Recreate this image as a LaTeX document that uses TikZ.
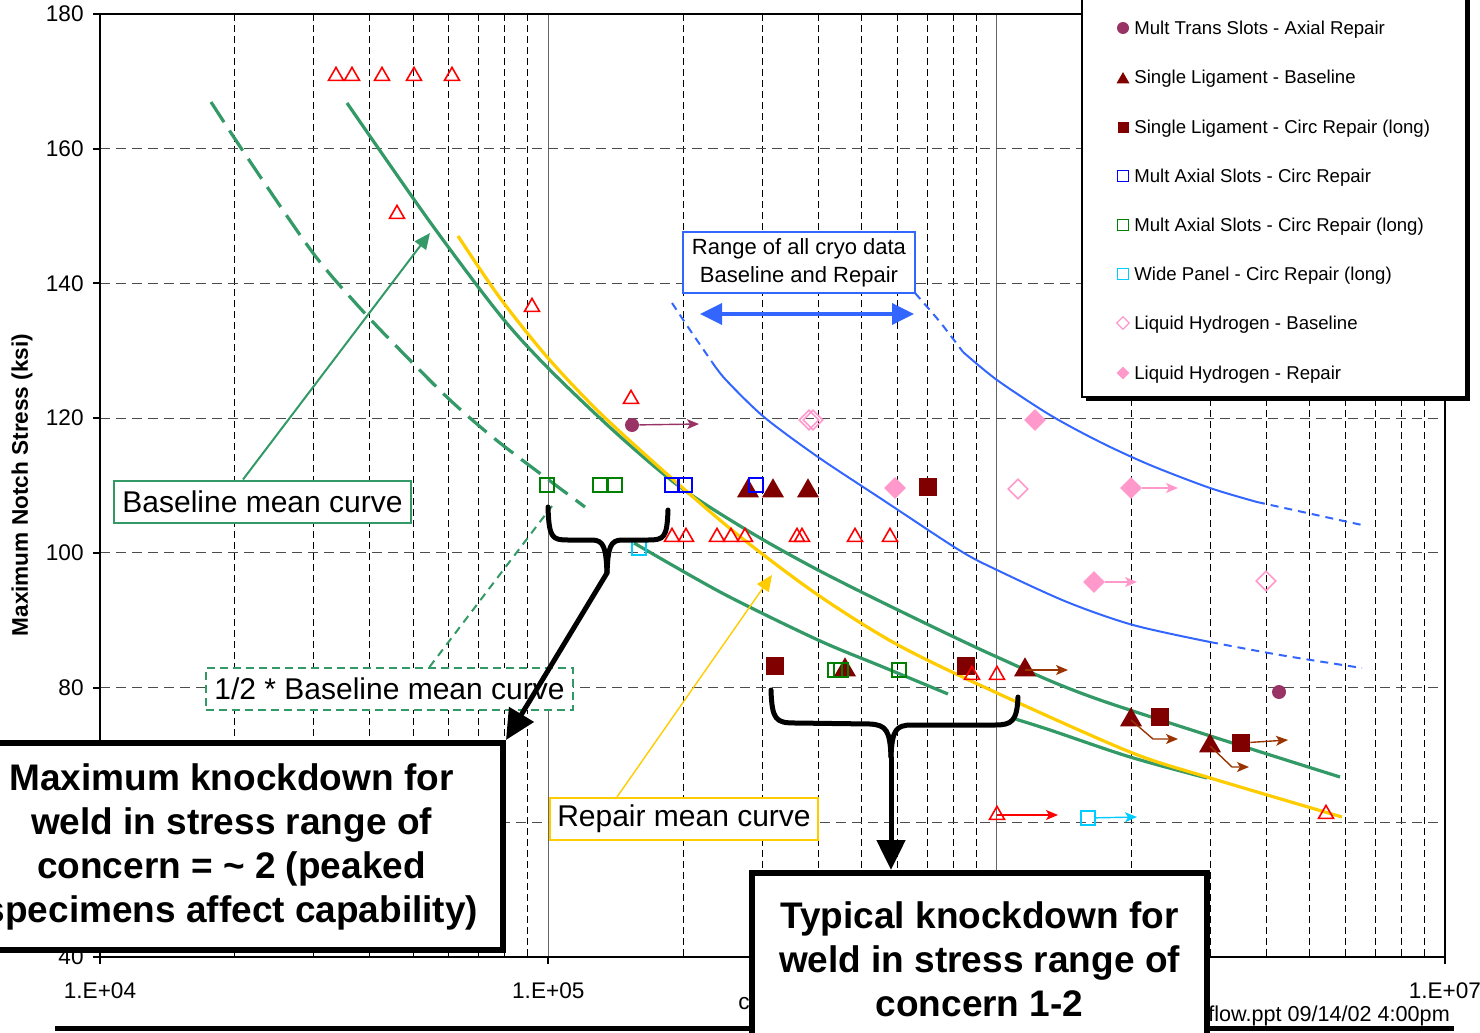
\documentclass[tikz,border=0pt]{standalone}
\usepackage{fontspec}
\setmainfont{Liberation Sans}
\usetikzlibrary{arrows.meta,shapes.geometric}

\definecolor{seagrn}{HTML}{339966}
\definecolor{gold}{HTML}{FFCC00}
\definecolor{royal}{HTML}{3366FF}
\definecolor{maroon}{HTML}{800000}
\definecolor{plum}{HTML}{993366}
\definecolor{rust}{HTML}{993300}
\definecolor{pinky}{HTML}{FF99CC}
\definecolor{aqua}{HTML}{00CCFF}
\definecolor{dkgreen}{HTML}{008000}
\definecolor{pureblue}{HTML}{0000FF}

\tikzset{
  gridv/.style={black, line width=0.5pt, dash pattern=on 3.5pt off 2pt},
  gridh/.style={black!70, line width=0.5pt, dash pattern=on 5pt off 3pt},
  plotframe/.style={black, line width=1pt},
  ticklbl/.style={font=\fontsize{11.3}{13}\selectfont, inner sep=0pt},
  basecurve/.style={seagrn, line width=1.6pt},
  halfcurve/.style={seagrn, line width=1.6pt, dash pattern=on 12pt off 5pt},
  repcurve/.style={gold, line width=1.6pt},
  cryocurve/.style={royal, line width=1pt},
  cryodash/.style={royal, line width=1pt, dash pattern=on 4pt off 3pt},
  otri/.style={regular polygon, regular polygon sides=3, draw=red, line width=0.8pt, minimum size=8.6pt, inner sep=0pt, yshift=-1pt},
  ftri/.style={regular polygon, regular polygon sides=3, fill=maroon, minimum size=12.7pt, inner sep=0pt, yshift=-1.5pt},
  fsq/.style={rectangle, fill=maroon, minimum size=9pt, inner sep=0pt},
  osq/.style={rectangle, draw=#1, line width=0.8pt, minimum size=7pt, inner sep=0pt},
  odia/.style={diamond, draw=pinky, line width=0.8pt, minimum size=10pt, inner sep=0pt},
  fdia/.style={diamond, fill=pinky, minimum size=11pt, inner sep=0pt},
  pdot/.style={circle, fill=plum, minimum size=7pt, inner sep=0pt},
  ptr/.style={line width=0.7pt, -{Stealth[length=6pt,width=5pt,inset=1.5pt]}},
  legtxt/.style={font=\fontsize{9.3}{11}\selectfont, anchor=west, inner sep=0pt},
  notebox/.style={fill=white, font=\fontsize{15}{18}\selectfont, inner sep=0pt, minimum height=21pt},
  bigbox/.style={draw=black, line width=3pt, fill=white, align=center, inner sep=0pt, font=\bfseries\fontsize{18.5}{22}\selectfont},
  knockbrace/.style={black, line width=2.5pt, line cap=round, line join=round},
  bigarrow/.style={black, line width=2.5pt, -{Triangle[length=15pt,width=14pt]}},
  rangearrow/.style={royal, line width=1.8pt, {Triangle[length=11pt,width=10.5pt]}-{Triangle[length=11pt,width=10.5pt]}},
  leadarrow/.style={line width=1pt, -{Triangle[length=8pt,width=7pt]}}
}

\begin{document}
\begin{tikzpicture}[x=0.5pt, y=-0.5pt]
\useasboundingbox (0,0) rectangle (1480,1033);
\clip (0,0) rectangle (1480,1033);

% grid lines
\foreach \d in {0,1,2}{
  \foreach \k in {2,...,9}{
    \pgfmathsetmacro{\gx}{100+448.3*(\d+log10(\k))}
    \draw[gridv] (\gx,14) -- (\gx,957);
  }
}
\foreach \gx in {548.3,996.6}
  \draw[black!60, line width=0.6pt] (\gx,14) -- (\gx,957);
\foreach \s in {60,80,...,160}{
  \pgfmathsetmacro{\gy}{957-6.736*(\s-40)}
  \draw[gridh] (100,\gy) -- (1445,\gy);
}

% axes and ticks
\draw[plotframe] (100,14) rectangle (1445,957);
\foreach \s in {40,60,...,180}{
  \pgfmathsetmacro{\gy}{957-6.736*(\s-40)}
  \draw[plotframe] (93,\gy) -- (100,\gy);
}
\foreach \s in {40,80,100,120,140,160,180}{
  \pgfmathsetmacro{\gy}{957-6.736*(\s-40)}
  \node[ticklbl, anchor=east] (y\s) at (84,\gy) {\s};
}
\foreach \d/\lab in {0/04,1/05,3/07}{
  \draw[plotframe] (100+448.3*\d,957) -- (100+448.3*\d,964);
  \node[ticklbl] (x\lab) at (100+448.3*\d,991) {1.E+\lab};
}
\node[ticklbl, anchor=base west] (xttl) at (738,1009) {c};
\node[rotate=90, font=\bfseries\fontsize{11.3}{13}\selectfont] (yttl) at (22,485) {Maximum Notch Stress (ksi)};

% mean curves
\draw[basecurve] plot[smooth] coordinates {(347,103) (430,222) (500,315) (548,368) (615,432) (680,487) (750,532) (818,570) (898,610) (997,657) (1100,700) (1340,777)};
\draw[halfcurve] plot[smooth] coordinates {(211,102) (247,157) (313,253) (360,308) (400,350) (450,400) (500,443) (585,507)};
\draw[basecurve] plot[smooth] coordinates {(634,543) (722,593) (818,640) (883,667) (948,694)};
\draw[basecurve] plot[smooth] coordinates {(1012,718) (1050,730) (1130,757) (1207,778)};
\draw[repcurve] plot[smooth] coordinates {(458,236) (500,298) (548,358) (600,413) (668,475) (738,535) (818,595) (898,645) (997,693) (1130,752) (1207,777) (1342,817)};

% cryo range curves
\draw[cryodash] plot[smooth] coordinates {(672,303) (690,330) (712,362)};
\draw[cryocurve] plot[smooth] coordinates {(712,362) (726,380) (764,417) (818,457) (883,500) (959,550) (997,570) (1067,602) (1133,625) (1210,642)};
\draw[cryodash] plot[smooth] coordinates {(1210,642) (1280,655) (1362,668)};
\draw[cryodash] plot[smooth] coordinates {(915,293) (940,322) (963,352)};
\draw[cryocurve] plot[smooth] coordinates {(963,352) (997,380) (1050,415) (1100,442) (1150,465) (1210,488) (1257,502)};
\draw[cryodash] (1257,502) -- (1362,525);

% single ligament
\foreach \x/\y [count=\i] in {748/488,773/488,808/488,845/667}
  \node[ftri] (slt\i) at (\x,\y) {};
\node[ftri] (sla) at (1025,667) {};
\node[ftri] (slb) at (1131,717) {};
\node[ftri] (slc) at (1210,743) {};
\foreach \x/\y [count=\i] in {775/666,928/487,966/666,1160/717}
  \node[fsq] (slq\i) at (\x,\y) {};
\node[fsq] (slqr) at (1241,743) {};

% liquid hydrogen
\foreach \x/\y [count=\i] in {809/420,813/420,1018/489,1266/581}
  \node[odia] (lho\i) at (\x,\y) {};
\foreach \x/\y [count=\i] in {895/488,1035/420}
  \node[fdia] (lhf\i) at (\x,\y) {};
\node[fdia] (lhfa) at (1131,488) {};
\node[fdia] (lhfb) at (1094,582) {};

% mult trans slots
\node[pdot] (mta) at (632,425) {};
\node[pdot] (mtb) at (1279,692) {};

% slots and panels
\foreach \x/\y [count=\i] in {547/485,600/485,615/485,835/670,841/670,899/670}
  \node[osq=dkgreen] (mag\i) at (\x,\y) {};
\foreach \x/\y [count=\i] in {672/485,685/485,756/485}
  \node[osq=pureblue] (mab\i) at (\x,\y) {};
\node[osq=aqua] (wpa) at (639,548) {};
\node[osq=aqua] (wpb) at (1088,818) {};

% red open triangles
\foreach \x/\y [count=\i] in {336/74,352/74,382/74,414/74,452/74,397/212,532/305,631/397,672/535,686/535,717/535,731/535,745/535,797/535,802/535,855/535,890/535,972/673,997/673,1326/812}
  \node[otri] (rt\i) at (\x,\y) {};
\node[otri] (rtr) at (997,813) {};

% run-out arrows
\coordinate (mtaend) at (699,424);
\coordinate (slaend) at (1068,670);
\coordinate (slbend) at (1178,739);
\coordinate (slcend) at (1249,767);
\coordinate (slqend) at (1288,740);
\coordinate (rtrend) at (1058,815);
\coordinate (wpbend) at (1137,817);
\coordinate (lhfaend) at (1178,488);
\coordinate (lhfbend) at (1137,582);
\draw[ptr, plum] (mta) -- (mtaend);
\draw[ptr, rust] (sla.center) -- (slaend);
\draw[ptr, rust] (slb.center) -- (1153,739) -- (slbend);
\draw[ptr, rust] (slc.center) -- (1232,767) -- (slcend);
\draw[ptr, rust] (slqr) -- (slqend);
\draw[ptr, red] (rtr.center) -- (rtrend);
\draw[ptr, aqua] (wpb) -- (wpbend);
\draw[ptr, pinky] (lhfa) -- (lhfaend);
\draw[ptr, pinky] (lhfb) -- (lhfbend);

% legend
\fill[black] (1086,-10) rectangle (1470,401);
\draw[fill=white, line width=0.8pt] (1082,-10) rectangle (1466,397);
\node[pdot, minimum size=6pt] (lg1) at (1123,28) {};
\node[ftri, minimum size=7.5pt, yshift=0.7pt] (lg2) at (1123,78) {};
\node[fsq, minimum size=5.5pt] (lg3) at (1123,127) {};
\node[osq=pureblue, minimum size=5.5pt] (lg4) at (1123,176) {};
\node[osq=dkgreen, minimum size=5.5pt] (lg5) at (1123,225) {};
\node[osq=aqua, minimum size=5.5pt] (lg6) at (1123,274) {};
\node[odia, minimum size=6.5pt, line width=0.6pt] (lg7) at (1123,323) {};
\node[fdia, minimum size=6.5pt] (lg8) at (1123,373) {};
\node[legtxt] (lt1) at (1134,29.5) {Mult Trans Slots - Axial Repair};
\node[legtxt] (lt2) at (1134,78.5) {Single Ligament - Baseline};
\node[legtxt] (lt3) at (1134,128.5) {Single Ligament - Circ Repair (long)};
\node[legtxt] (lt4) at (1134,177.5) {Mult Axial Slots - Circ Repair};
\node[legtxt] (lt5) at (1134,226.5) {Mult Axial Slots - Circ Repair (long)};
\node[legtxt] (lt6) at (1134,275.5) {Wide Panel - Circ Repair (long)};
\node[legtxt] (lt7) at (1134,324.5) {Liquid Hydrogen - Baseline};
\node[legtxt] (lt8) at (1134,374.5) {Liquid Hydrogen - Repair};

% range of cryo data
\node[draw=royal, line width=0.75pt, fill=white, align=center, inner sep=0pt, font=\fontsize{11}{14}\selectfont, minimum width=116pt, minimum height=30.5pt] (rng) at (799,262.5) {Range of all cryo data\\Baseline and Repair};
\coordinate (rngl) at (700,314);
\coordinate (rngr) at (914,314);
\draw[rangearrow] (rngl) -- (rngr);

% curve labels
\node[notebox, draw=seagrn, line width=1pt, minimum width=148.5pt] (bmc) at (262.5,501.5) {Baseline mean curve};
\node[notebox, draw=seagrn, line width=1pt, dash pattern=on 4pt off 2.5pt, minimum width=183.5pt] (hbm) at (389.5,689) {1/2 * Baseline mean curve};
\node[notebox, draw=gold, line width=1pt, minimum width=134pt] (rpm) at (684,819) {Repair mean curve};
\coordinate (bmtip) at (430,233);
\coordinate (hbtip) at (552,506);
\coordinate (rptip) at (772,575);
\draw[leadarrow, seagrn] ([xshift=-9.75pt]bmc.north) -- (bmtip);
\draw[seagrn, line width=1pt, dash pattern=on 4pt off 3pt] ([xshift=20pt]hbm.north) -- (hbtip);
\draw[leadarrow, gold, line width=0.7pt] ([xshift=-33.5pt]rpm.north) -- (rptip);

% footer
\draw[line width=2.5pt] (55,1028) -- (1454,1028);
\node[font=\fontsize{10.8}{12}\selectfont, anchor=base west, inner sep=0pt] (ftr) at (1208,1021) {flow.ppt 09/14/02 4:00pm};

% knockdown boxes
\node[bigbox, minimum width=271.5pt, minimum height=103.5pt] (mk) at (231.5,846.5) {Maximum knockdown for\\weld in stress range of\\concern = \textasciitilde\ 2 (peaked\\specimens affect capability)};
\node[bigbox, minimum width=227.5pt, minimum height=86pt] (tk) at (979.5,959) {Typical knockdown for\\weld in stress range of\\concern 1-2};

% braces
\draw[knockbrace] (548,507) .. controls (549,538) and (552,540) .. (568,540) -- (592,540) .. controls (604,540) and (606,548) .. (607,573);
\draw[knockbrace] (668,510) .. controls (667,538) and (664,540) .. (648,540) -- (622,540) .. controls (610,540) and (608,548) .. (607,573);
\draw[knockbrace] (771,690) .. controls (772,720) and (776,723) .. (795,723) -- (870,724) .. controls (886,725) and (890,730) .. (891,757);
\draw[knockbrace] (1018,697) .. controls (1017,721) and (1012,725) .. (995,725) -- (912,725) .. controls (896,725) and (892,730) .. (891,757);
\coordinate (bt1) at (607,573);
\coordinate (bt2) at (891,757);
\draw[bigarrow] (bt1) -- (mk.north east);
\draw[bigarrow] (bt2) -- (bt2 |- tk.north);

\end{tikzpicture}
\end{document}
